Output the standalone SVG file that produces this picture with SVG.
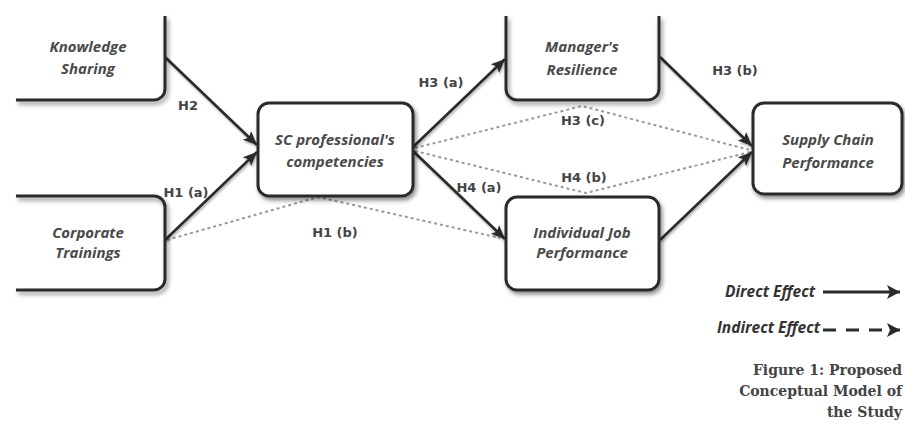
<svg xmlns="http://www.w3.org/2000/svg" width="905" height="427" viewBox="0 0 905 427">
<defs>
<filter id="sh" x="-20%" y="-20%" width="140%" height="140%">
<feDropShadow dx="2" dy="3" stdDeviation="2" flood-color="#000" flood-opacity="0.45"/>
</filter>
<filter id="lsh" x="-10%" y="-10%" width="120%" height="120%">
<feDropShadow dx="1" dy="2" stdDeviation="1.2" flood-color="#000" flood-opacity="0.3"/>
</filter>
<marker id="ah" markerUnits="userSpaceOnUse" markerWidth="16" markerHeight="14" refX="14" refY="7" orient="auto">
<path d="M0,1 L14,7 L0,13 L3,7 z" fill="#2b2b2b"/>
</marker>
<marker id="lah" markerUnits="userSpaceOnUse" markerWidth="16" markerHeight="16" refX="15" refY="8" orient="auto">
<path d="M2,1 L15,8 L2,15 L5,8 z" fill="#2b2b2b"/>
</marker>
<style>
.box{fill:#fff;stroke:#2b2b2b;stroke-width:3;filter:url(#sh)}
.edge{fill:none;stroke:#2b2b2b;stroke-width:3;filter:url(#sh)}
.fill{fill:#fff;stroke:none}
.nt{font-family:"Open Sans","DejaVu Sans",sans-serif;font-style:italic;font-weight:700;font-size:15px;fill:#4a4a4a;text-anchor:middle}
.lbl{font-family:"DejaVu Sans","Open Sans",sans-serif;font-weight:700;font-size:13px;fill:#444;text-anchor:middle}
.solid{stroke:#2b2b2b;stroke-width:2.6;fill:none;marker-end:url(#ah);filter:url(#lsh)}
.dot{stroke:#9a9a9a;stroke-width:2;stroke-dasharray:3 3;fill:none}
.leg{font-family:"Open Sans","DejaVu Sans",sans-serif;font-style:italic;font-weight:700;font-size:15.5px;fill:#333;text-anchor:end}
.cap{font-family:"DejaVu Serif","Liberation Serif",serif;font-weight:700;font-size:14px;fill:#444;text-anchor:end}
</style>
</defs>
<rect width="905" height="427" fill="#fff"/>

<g id="connectors">
<polyline class="dot" points="167,240 318,197 500,238"/>
<polyline class="dot" points="415,148 582,106 750,150"/>
<polyline class="dot" points="415,151 586,193 750,152"/>
<line class="solid" x1="165" y1="57" x2="257" y2="145"/>
<line class="solid" x1="165" y1="240" x2="257" y2="152"/>
<line class="solid" x1="413" y1="147" x2="505" y2="59"/>
<line class="solid" x1="413" y1="151" x2="505" y2="239"/>
<line class="solid" x1="660" y1="57" x2="752" y2="146"/>
<line class="solid" x1="660" y1="240" x2="752" y2="152"/>
<text class="lbl" x="188" y="110">H2</text>
<text class="lbl" x="186" y="197">H1 (a)</text>
<text class="lbl" x="335" y="237">H1 (b)</text>
<text class="lbl" x="441" y="87">H3 (a)</text>
<text class="lbl" x="735" y="75">H3 (b)</text>
<text class="lbl" x="583" y="125">H3 (c)</text>
<text class="lbl" x="479" y="192">H4 (a)</text>
<text class="lbl" x="584" y="182">H4 (b)</text>
</g>

<g id="ks">
<path class="fill" d="M16,16 H165 V89 A11,11 0 0 1 154,100 H16 Z"/>
<path class="edge" d="M165,16 V89 A11,11 0 0 1 154,100 H16"/>
<text class="nt" x="88" y="52">Knowledge</text>
<text class="nt" x="88" y="74">Sharing</text>
</g>
<g id="ct">
<path class="fill" d="M16,196 H154 A11,11 0 0 1 165,207 V279 A11,11 0 0 1 154,290 H16 Z"/>
<path class="edge" d="M16,196 H154 A11,11 0 0 1 165,207 V279 A11,11 0 0 1 154,290 H16"/>
<text class="nt" x="88" y="238">Corporate</text>
<text class="nt" x="88" y="258">Trainings</text>
</g>
<g id="sc">
<rect class="box" x="258" y="103" width="155" height="93" rx="11"/>
<text class="nt" x="335" y="145">SC professional's</text>
<text class="nt" x="335" y="167">competencies</text>
</g>
<g id="mr">
<path class="fill" d="M506,16 V89 A11,11 0 0 0 517,100 H648 A11,11 0 0 0 659,89 V16 Z"/>
<path class="edge" d="M506,16 V89 A11,11 0 0 0 517,100 H648 A11,11 0 0 0 659,89 V16"/>
<text class="nt" x="582" y="52">Manager's</text>
<text class="nt" x="582" y="75">Resilience</text>
</g>
<g id="ijp">
<rect class="box" x="506" y="197" width="153" height="93" rx="11"/>
<text class="nt" x="582" y="238">Individual Job</text>
<text class="nt" x="582" y="258">Performance</text>
</g>
<g id="scp">
<rect class="box" x="753" y="103" width="149" height="91" rx="11"/>
<text class="nt" x="828" y="145">Supply Chain</text>
<text class="nt" x="828" y="168">Performance</text>
</g>

<g id="legend">
<text class="leg" x="815" y="297">Direct Effect</text>
<line x1="823" y1="292" x2="900" y2="292" stroke="#2b2b2b" stroke-width="3" marker-end="url(#lah)"/>
<text class="leg" x="820" y="333">Indirect Effect</text>
<line x1="823" y1="330" x2="900" y2="330" stroke="#2b2b2b" stroke-width="3" stroke-dasharray="13 10" marker-end="url(#lah)"/>
<text class="cap" x="902" y="375">Figure 1: Proposed</text>
<text class="cap" x="902" y="396">Conceptual Model of</text>
<text class="cap" x="902" y="417">the Study</text>
</g>
</svg>
